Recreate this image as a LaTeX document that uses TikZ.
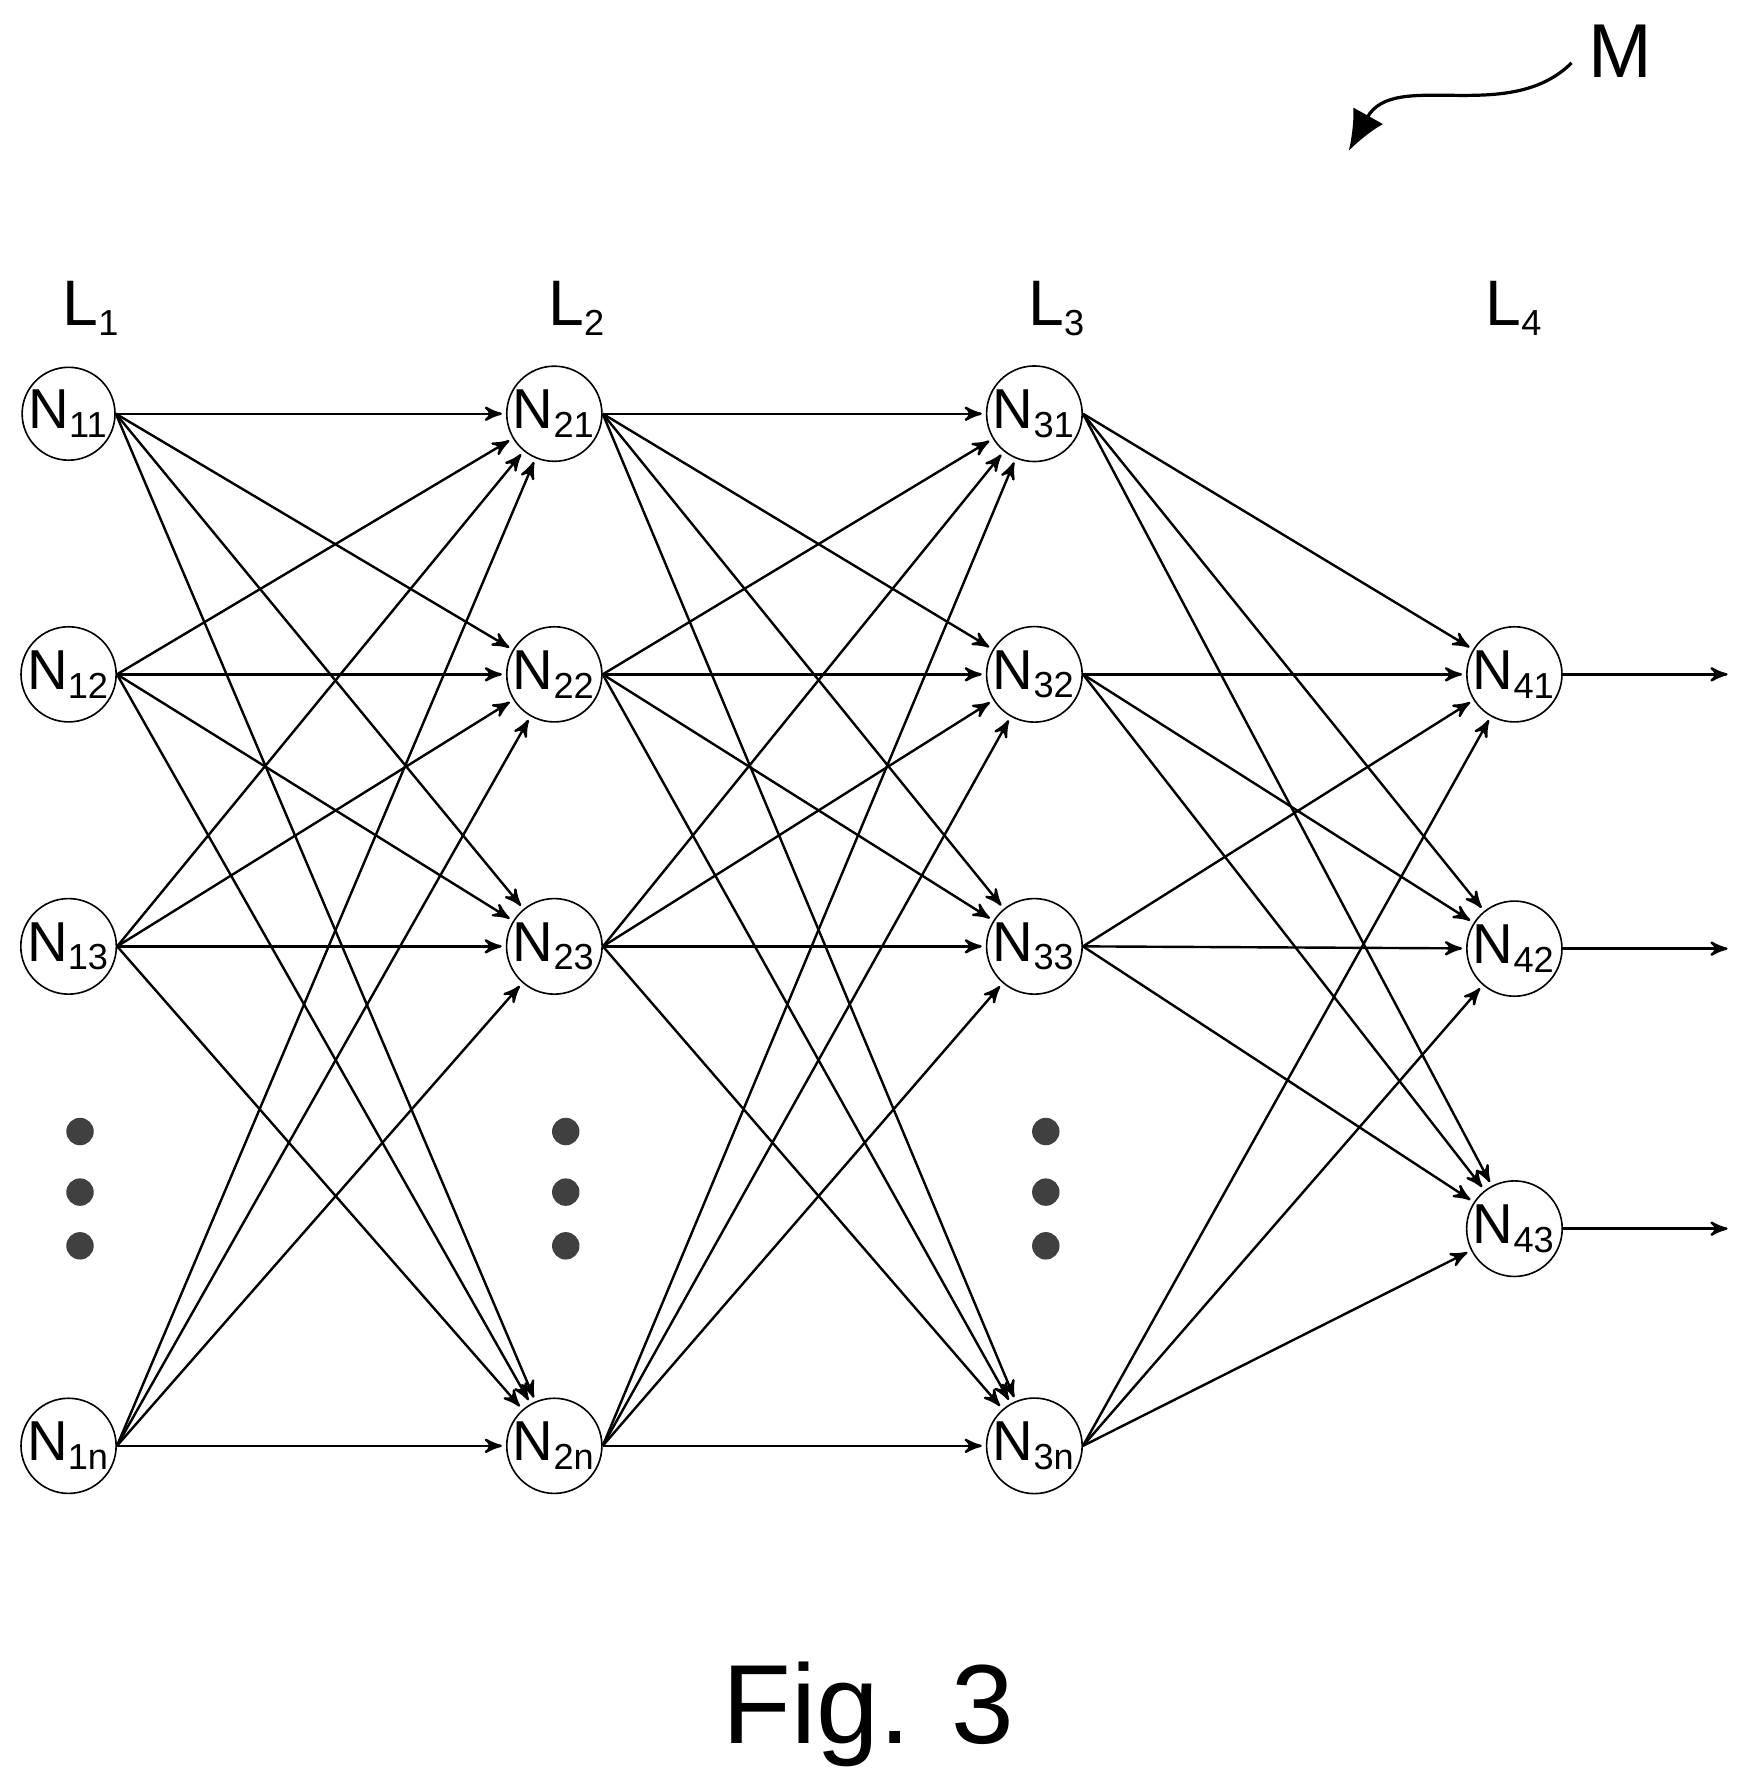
\documentclass[tikz,border=0pt]{standalone}
\usepackage{fontspec}
\setmainfont{Liberation Sans}
\usetikzlibrary{arrows,arrows.meta,positioning}
\newcommand{\sbs}[1]{\textsubscript{\fontsize{9pt}{10}\selectfont #1}}
\begin{document}
\begin{tikzpicture}[x=0.01cm, y=-0.01cm, >=stealth', semithick,
            neuron/.style={circle, draw, thin, minimum size=0.8cm, inner sep=0pt, font=\fontsize{14pt}{16}\selectfont},
            link/.style={->, shorten >=1pt},
            bigdot/.style={circle, fill=black!75, minimum size=0.24cm, inner sep=0pt}]
            \useasboundingbox (0,0) rectangle (1530,1567);
            % layers
            \foreach \l/\x in {1/60, 2/485, 3/905} {
                \node[font=\fontsize{16pt}{18}\selectfont] (L\l) at (\x+20,270) {L\sbs{\l}};
                \node[neuron] (n\l1) at (\x,362)  {N\sbs{\l1}};
                \node[neuron] (n\l2) at (\x,590)  {N\sbs{\l2}};
                \node[neuron] (n\l3) at (\x,828)  {N\sbs{\l3}};
                \node[neuron] (n\l n) at (\x,1265) {N\sbs{\l n}};
                \node[bigdot] (d\l a) at (\x+10,990)  {};
                \node[bigdot] (d\l b) at (\x+10,1043) {};
                \node[bigdot] (d\l c) at (\x+10,1090) {};
            }
            \node[font=\fontsize{16pt}{18}\selectfont] (L4) at (1325,270) {L\sbs{4}};
            \node[neuron] (n41) at (1325,590)  {N\sbs{41}};
            \node[neuron] (n42) at (1325,830)  {N\sbs{42}};
            \node[neuron] (n43) at (1325,1075) {N\sbs{43}};
            % connections
            \foreach \a/\b in {1/2, 2/3}
                \foreach \i in {1,2,3,n}
                    \foreach \j in {1,2,3,n}
                        \draw[link] (n\a\i.east) -- (n\b\j);
            \foreach \i in {1,2,3,n}
                \foreach \j in {1,2,3}
                    \draw[link] (n3\i.east) -- (n4\j);
            % outputs
            \foreach \j in {1,2,3} {
                \coordinate (o\j) at (1515,0 |- n4\j);
                \draw[link] (n4\j) -- (o\j);
            }
            % label
            \node[font=\fontsize{19pt}{21}\selectfont] (M) at (1418,45) {M};
            \coordinate (mtip) at (1180,132);
            \draw[-{Latex[length=0.35cm,width=0.3cm]}, thick] (1375,55) .. controls (1320,110) and (1220,60) .. (mtip);
            \node[font=\fontsize{28pt}{32}\selectfont] (fig) at (760,1500) {Fig. 3};
\end{tikzpicture}
\end{document}
